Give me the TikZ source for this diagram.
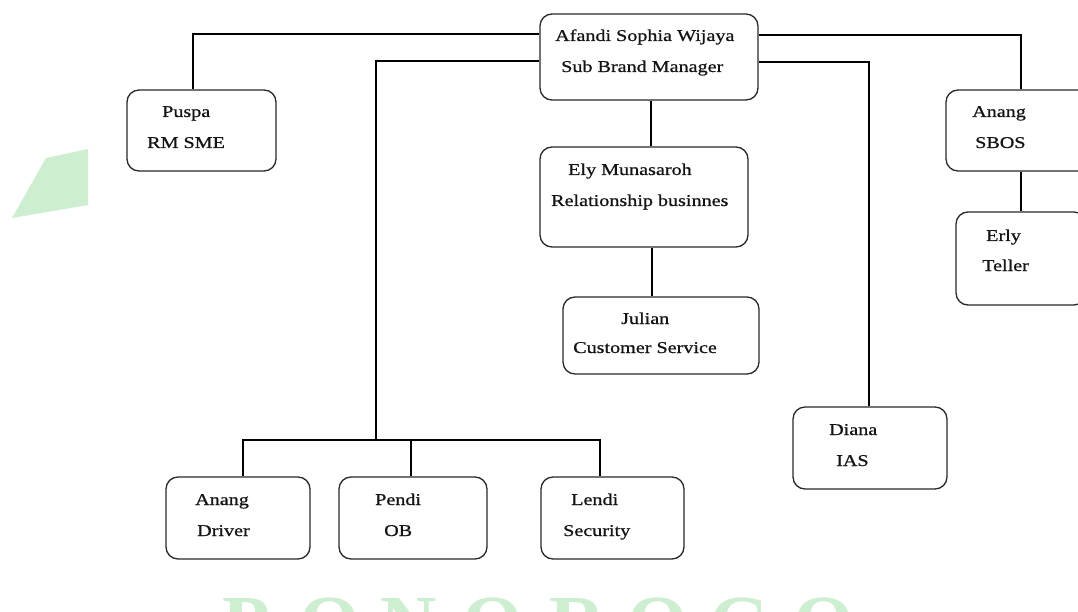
\documentclass[tikz,border=0pt]{standalone}
\usepackage{fontspec}
\setmainfont{Liberation Serif}[FakeStretch=1.22,FakeBold=0.8]
\newfontfamily\wmfont{Liberation Serif}
\definecolor{wmgreen}{RGB}{206,238,209}
\definecolor{inkline}{RGB}{40,40,40}
\begin{document}
\begin{tikzpicture}[x=1pt,y=-1pt,
  box/.style={draw=inkline, fill=white, line width=1.3pt, rounded corners=12pt, inner sep=0pt},
  conn/.style={draw=black, line width=1.1pt},
  txt/.style={anchor=base west, inner sep=0pt, font=\fontsize{16.5}{20}\selectfont, text=black!92},
  wm/.style={anchor=base, inner sep=0pt, text=wmgreen, font=\wmfont\bfseries\fontsize{78}{80}\selectfont}]
\useasboundingbox (0,0) rectangle (1078,612);
\clip (0,0) rectangle (1078,612);
\fill[white] (0,0) rectangle (1078,612);

% watermark
\fill[wmgreen] (12,218) -- (46,158) -- (88,149) -- (88,205) -- cycle;
\foreach \l/\x [count=\i] in {P/246,O/330,N/409,O/493,R/578,O/658,G/740,O/824}
  \node[wm] (wm\i) at (\x,649) {\l};

% boxes
\node[box, minimum width=218pt, minimum height=86pt] (top) at (649,57) {};
\node[box, minimum width=149pt, minimum height=81pt] (puspa) at (201.5,130.5) {};
\node[box, minimum width=208pt, minimum height=100pt] (ely) at (644,197) {};
\node[box, minimum width=196pt, minimum height=77pt] (julian) at (661,335.5) {};
\node[box, minimum width=150pt, minimum height=81pt] (sbos) at (1021,130.5) {};
\node[box, minimum width=130pt, minimum height=93pt] (erly) at (1021,258.5) {};
\node[box, minimum width=154pt, minimum height=82pt] (diana) at (870,448) {};
\node[box, minimum width=144pt, minimum height=82pt] (driver) at (238,518) {};
\node[box, minimum width=148pt, minimum height=82pt] (pendi) at (413,518) {};
\node[box, minimum width=143pt, minimum height=82pt] (lendi) at (612.5,518) {};

% connectors
\draw[conn] ([yshift=23pt]top.west) -| ([xshift=-8.5pt]puspa.north);
\coordinate (j) at (376,440);
\draw[conn] ([yshift=-4pt]top.west) -| (j);
\draw[conn] ([xshift=5pt]driver.north) |- (j) -| ([xshift=-12.5pt]lendi.north);
\coordinate (pn) at ([xshift=-2pt]pendi.north);
\draw[conn] (pn) -- (pn |- j);
\draw[conn] ([yshift=22pt]top.east) -| (sbos.north);
\draw[conn] ([yshift=-5pt]top.east) -| ([xshift=-1pt]diana.north);
\coordinate (ts) at ([xshift=2pt]top.south);
\draw[conn] (ts) -- (ts |- ely.north);
\coordinate (es) at ([xshift=8pt]ely.south);
\draw[conn] (es) -- (es |- julian.north);
\draw[conn] (sbos.south) -- (erly.north);

% texts
\node[txt] (t1a) at (555,41) {Afandi Sophia Wijaya};
\node[txt] (t1b) at (561,72) {Sub Brand Manager};
\node[txt] (t2a) at (162,117) {Puspa};
\node[txt] (t2b) at (147,148) {RM SME};
\node[txt] (t3a) at (568,175) {Ely Munasaroh};
\node[txt] (t3b) at (551,206) {Relationship businnes};
\node[txt] (t4a) at (621,324) {Julian};
\node[txt] (t4b) at (573,353) {Customer Service};
\node[txt] (t5a) at (972,117) {Anang};
\node[txt] (t5b) at (975,148) {SBOS};
\node[txt] (t6a) at (986,241) {Erly};
\node[txt] (t6b) at (982,271) {Teller};
\node[txt] (t7a) at (829,435) {Diana};
\node[txt] (t7b) at (836,466) {IAS};
\node[txt] (t8a) at (195,505) {Anang};
\node[txt] (t8b) at (197,536) {Driver};
\node[txt] (t9a) at (375,505) {Pendi};
\node[txt] (t9b) at (384,536) {OB};
\node[txt] (t10a) at (571,505) {Lendi};
\node[txt] (t10b) at (563,536) {Security};
\end{tikzpicture}
\end{document}
